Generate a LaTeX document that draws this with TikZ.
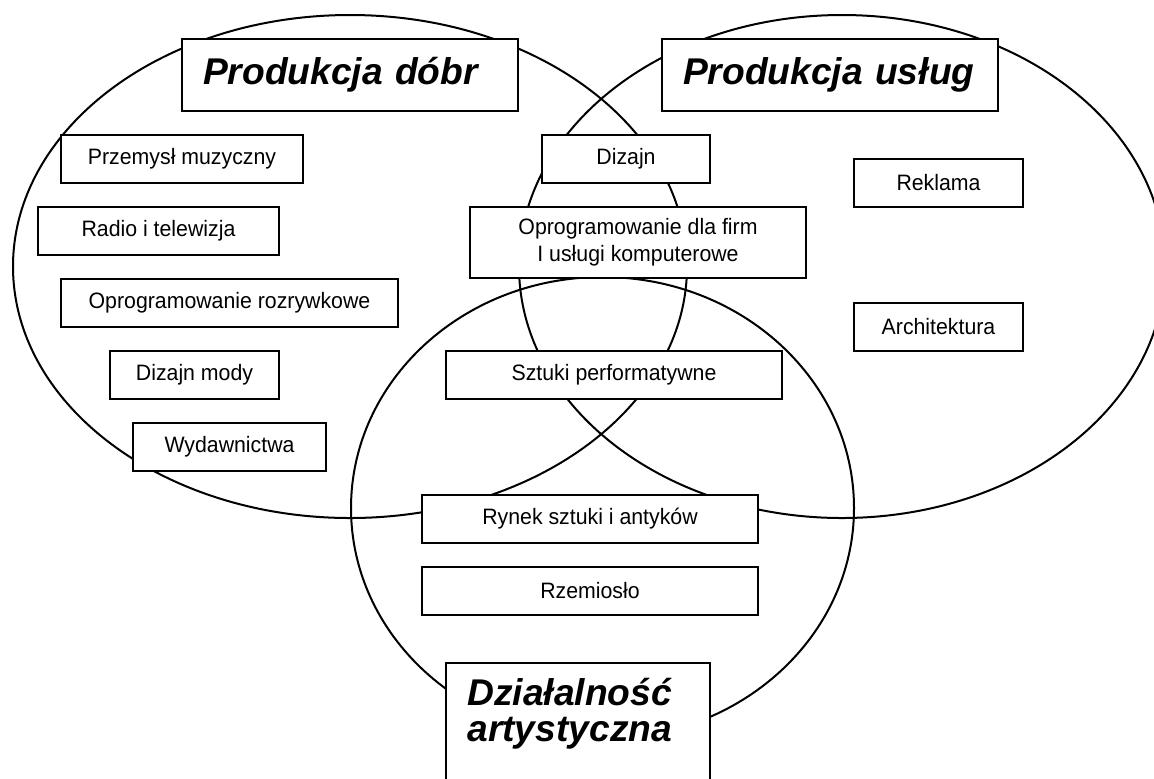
\documentclass[tikz,border=0pt]{standalone}
\usepackage{fontspec}
\setmainfont{Liberation Sans}
\newfontfamily\boxfont[FakeStretch=0.955]{Liberation Sans}
\begin{document}
\begin{tikzpicture}[x=0.5pt,y=-0.5pt,
  ring/.style={draw=black, line width=1pt},
  itembox/.style={draw=black, fill=white, line width=1.3pt, inner sep=0pt,
    align=center, minimum height=24pt,
    font=\boxfont\fontsize{11.15pt}{13.6pt}\selectfont},
  titlebox/.style={draw=black, fill=white, line width=1.3pt,
    inner xsep=10.5pt, inner ysep=0pt, minimum height=36pt,
    text width=147pt, align=left,
    font=\fontsize{18.6pt}{18pt}\selectfont\bfseries\itshape},
  titletext/.style={inner sep=0pt, anchor=base west,
    font=\fontsize{18.6pt}{18pt}\selectfont\bfseries\itshape},
]
\useasboundingbox (0,0) rectangle (1154,778);
\clip (0,0) rectangle (1154,778);
\fill[white] (0,0) rectangle (1154,778);

% the three overlapping sectors
\draw[ring] (350,266.5) ellipse [x radius=168.5pt, y radius=125.75pt];
\draw[ring] (842,266.5) ellipse [x radius=161.5pt, y radius=125.75pt];
\draw[ring] (602.5,508) ellipse [x radius=125.75pt, y radius=115.5pt];

% sector titles
\node[titlebox] (goods) at (350,75) {Produkcja dóbr};
\node[titlebox] (services) at (830,75) {Produkcja usług};
\node[draw=black, fill=white, line width=1.3pt, minimum width=132pt,
      minimum height=78.5pt, inner sep=0pt] (art) at (578,741.5) {};
\node[titletext] (artA) at (467,705) {Działalność};
\node[titletext] (artB) at (467,741) {artystyczna};

% goods only
\node[itembox, minimum width=121pt]   (music)  at (182,159)   {Przemysł muzyczny};
\node[itembox, minimum width=120.5pt] (radio)  at (158.5,231) {Radio i telewizja};
\node[itembox, minimum width=168.5pt] (games)  at (229.5,303) {Oprogramowanie rozrywkowe};
\node[itembox, minimum width=84.5pt]  (fashion) at (194.5,375) {Dizajn mody};
\node[itembox, minimum width=96.5pt]  (publish) at (229.5,447) {Wydawnictwa};

% goods and services
\node[itembox, minimum width=84pt]    (design) at (626,159) {Dizajn};
\node[itembox, minimum width=168pt, minimum height=35.5pt] (software) at (638,242.5)
  {Oprogramowanie dla firm\\I usługi komputerowe};

% services only
\node[itembox, minimum width=84.5pt]  (ads)    at (938.5,183) {Reklama};
\node[itembox, minimum width=84.5pt]  (arch)   at (938.5,327) {Architektura};

% shared with the arts
\node[itembox, minimum width=168pt]   (perf)   at (614,375) {Sztuki performatywne};
\node[itembox, minimum width=168pt]   (market) at (590,519) {Rynek sztuki i antyków};
\node[itembox, minimum width=168pt]   (craft)  at (590,591) {Rzemiosło};
\end{tikzpicture}
\end{document}
